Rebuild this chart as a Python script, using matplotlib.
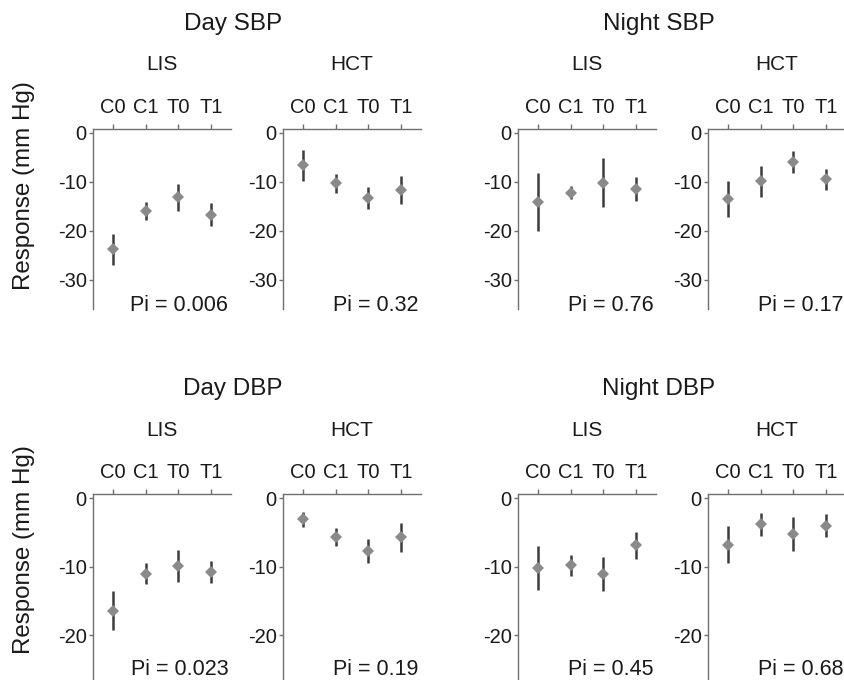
import matplotlib.pyplot as plt

plt.rcParams['font.family'] = ['Liberation Sans', 'DejaVu Sans']

conditions = ['C0', 'C1', 'T0', 'T1']

# means and error half-widths (mm Hg)
day_sbp_lis = [-23.8, -16.0, -13.2, -16.7]
day_sbp_lis_err = [3.2, 1.8, 2.7, 2.4]
day_sbp_hct = [-6.6, -10.3, -13.3, -11.7]
day_sbp_hct_err = [3.2, 2.0, 2.3, 2.8]

night_sbp_lis = [-14.1, -12.2, -10.2, -11.5]
night_sbp_lis_err = [5.9, 1.4, 5.0, 2.4]
night_sbp_hct = [-13.5, -9.9, -5.9, -9.5]
night_sbp_hct_err = [3.6, 3.1, 2.3, 2.2]

day_dbp_lis = [-16.4, -11.0, -9.9, -10.8]
day_dbp_lis_err = [2.8, 1.5, 2.3, 1.6]
day_dbp_hct = [-3.1, -5.7, -7.7, -5.7]
day_dbp_hct_err = [1.1, 1.3, 1.7, 2.1]

night_dbp_lis = [-10.2, -9.8, -11.1, -6.9]
night_dbp_lis_err = [3.2, 1.5, 2.5, 2.0]
night_dbp_hct = [-6.8, -3.8, -5.2, -4.0]
night_dbp_hct_err = [2.7, 1.7, 2.5, 1.7]

pi_values = {
    'day_sbp': ['0.006', '0.32'],
    'night_sbp': ['0.76', '0.17'],
    'day_dbp': ['0.023', '0.19'],
    'night_dbp': ['0.45', '0.68'],
}

W, H = 844, 680
fig = plt.figure(figsize=(W / 100, H / 100), dpi=100)


def px_ax(left, top, width, bottom):
    return fig.add_axes([left / W, 1 - bottom / H, width / W, (bottom - top) / H])


def ftext(x, y, s, size, **kw):
    fig.text(x / W, 1 - y / H, s, ha='center', va='center', fontsize=size,
             color='#1a1a1a', **kw)


def panel(ax, vals, errs, pi, ylim, yticks, pi_y):
    x = range(1, len(conditions) + 1)
    ax.errorbar(x, vals, yerr=errs, fmt='none', ecolor='#3c3c3c', elinewidth=1.8,
                capsize=0, zorder=2)
    ax.plot(x, vals, 'D', color='#8a8a8a', markersize=6.5, markeredgewidth=0, zorder=3)
    ax.set_xlim(0.4, 4.6)
    ax.set_ylim(*ylim)
    ax.set_yticks(yticks)
    ax.set_yticklabels([str(t) for t in yticks])
    ax.set_xticks(list(x))
    ax.set_xticklabels(conditions)
    ax.xaxis.tick_top()
    for s in ['right', 'bottom']:
        ax.spines[s].set_visible(False)
    for s in ['left', 'top']:
        ax.spines[s].set_color('#707070')
        ax.spines[s].set_linewidth(1.0)
    ax.tick_params(axis='x', length=3.5, width=1, color='#707070', pad=5,
                   labelsize=14.5, labelcolor='#1a1a1a')
    ax.tick_params(axis='y', length=3, width=1, color='#707070', pad=1.5,
                   labelsize=14.5, labelcolor='#1a1a1a')
    ax.text(0.98, pi_y, 'Pi = ' + pi, transform=ax.transAxes, ha='right',
            va='center', fontsize=15.5, color='#1a1a1a')
    ax.patch.set_alpha(0)


lefts = [93, 283, 518, 708]
pw = 138

# top row: SBP
top_sets = [(day_sbp_lis, day_sbp_lis_err, pi_values['day_sbp'][0]),
            (day_sbp_hct, day_sbp_hct_err, pi_values['day_sbp'][1]),
            (night_sbp_lis, night_sbp_lis_err, pi_values['night_sbp'][0]),
            (night_sbp_hct, night_sbp_hct_err, pi_values['night_sbp'][1])]
for l, (v, e, p) in zip(lefts, top_sets):
    ax = px_ax(l, 129, pw, 309)
    panel(ax, v, e, p, (-36, 0.8), [0, -10, -20, -30], 0.017)

# bottom row: DBP
bot_sets = [(day_dbp_lis, day_dbp_lis_err, pi_values['day_dbp'][0]),
            (day_dbp_hct, day_dbp_hct_err, pi_values['day_dbp'][1]),
            (night_dbp_lis, night_dbp_lis_err, pi_values['night_dbp'][0]),
            (night_dbp_hct, night_dbp_hct_err, pi_values['night_dbp'][1])]
for l, (v, e, p) in zip(lefts, bot_sets):
    ax = px_ax(l, 494, pw, 680)
    panel(ax, v, e, p, (-26.5, 0.6), [0, -10, -20], 0.054)

# group titles
ftext(233, 24, 'Day SBP', 17.5)
ftext(659, 24, 'Night SBP', 17.5)
ftext(233, 389, 'Day DBP', 17.5)
ftext(659, 389, 'Night DBP', 17.5)

for row_y in [65, 431]:
    for l, name in zip(lefts, ['LIS', 'HCT', 'LIS', 'HCT']):
        ftext(l + pw / 2, row_y, name, 15)

ftext(24, 186, 'Response (mm Hg)', 17.4, rotation=90)
ftext(24, 550, 'Response (mm Hg)', 17.4, rotation=90)

fig.savefig('out.png', dpi=100)
